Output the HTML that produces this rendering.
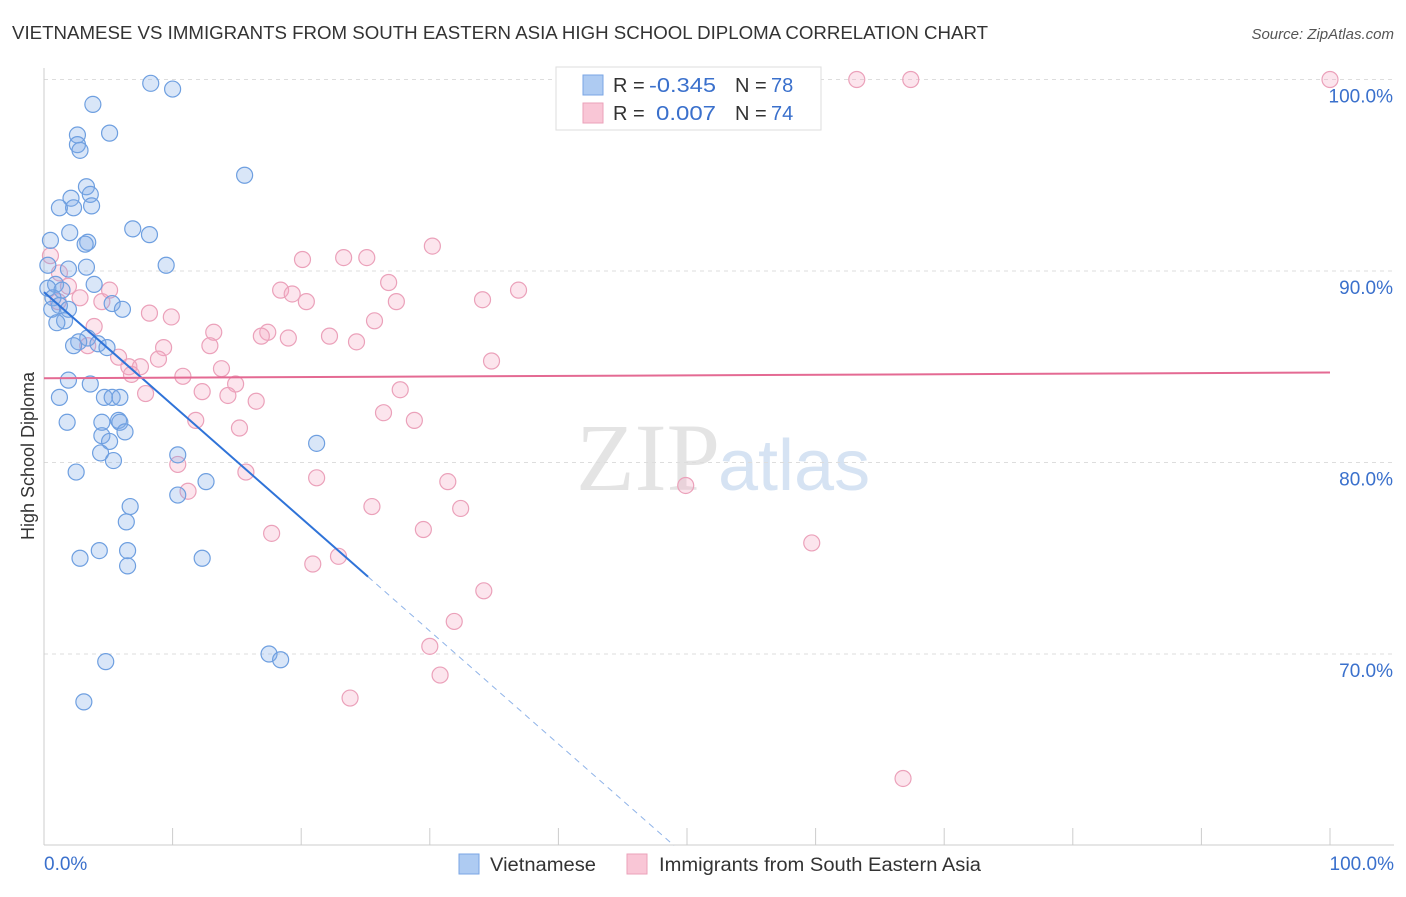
<!DOCTYPE html>
<html><head><meta charset="utf-8"><style>
body{margin:0;background:#fff;font-family:"Liberation Sans",sans-serif;}
</style></head><body>
<svg id="chart" width="1406" height="892" xmlns="http://www.w3.org/2000/svg">
<text x="12" y="39" font-size="18" fill="#333" textLength="976" lengthAdjust="spacingAndGlyphs">VIETNAMESE VS IMMIGRANTS FROM SOUTH EASTERN ASIA HIGH SCHOOL DIPLOMA CORRELATION CHART</text>
<text x="1394" y="39" font-size="15" fill="#555" font-style="italic" text-anchor="end">Source: ZipAtlas.com</text>
<text x="720" y="490" font-size="96" fill="#e4e4e4" font-family="Liberation Serif,serif" text-anchor="end">ZIP</text>
<text x="718" y="490" font-size="72" fill="#d6e3f3" text-anchor="start">atlas</text>
<g id="grid"></g><g id="axes"></g><g id="pts"></g><g id="trend"></g>
<text transform="translate(34,456) rotate(-90)" font-size="18" fill="#333" text-anchor="middle">High School Diploma</text>
<g>
<rect x="556" y="67" width="265" height="63" fill="#fff" stroke="#ddd"/>
<rect x="583" y="75" width="20" height="20" fill="#aecbf2" stroke="#7aa6e4"/>
<rect x="583" y="103" width="20" height="20" fill="#f9c6d6" stroke="#eba1ba"/>
<text x="613" y="92" font-size="20" fill="#333">R = <tspan fill="#3a70cc" x="649" textLength="67" lengthAdjust="spacingAndGlyphs">-0.345</tspan></text>
<text x="735" y="92" font-size="20" fill="#333">N = <tspan fill="#3a70cc" x="771">78</tspan></text>
<text x="613" y="120" font-size="20" fill="#333">R = <tspan fill="#3a70cc" x="656" textLength="60" lengthAdjust="spacingAndGlyphs">0.007</tspan></text>
<text x="735" y="120" font-size="20" fill="#333">N = <tspan fill="#3a70cc" x="771">74</tspan></text>
</g>
<g>
<rect x="459" y="854" width="20" height="20" fill="#aecbf2" stroke="#7aa6e4"/>
<text x="490" y="871" font-size="19" fill="#333" textLength="106" lengthAdjust="spacingAndGlyphs">Vietnamese</text>
<rect x="627" y="854" width="20" height="20" fill="#f9c6d6" stroke="#eba1ba"/>
<text x="659" y="871" font-size="19" fill="#333" textLength="322" lengthAdjust="spacingAndGlyphs">Immigrants from South Eastern Asia</text>
</g>
</svg>
<script>
const blueX=[8.3,10.0,3.8,2.6,5.1,2.6,2.8,15.6,3.3,3.6,2.1,3.7,1.2,2.3,6.9,8.2,2.0,0.5,3.4,3.2,9.5,3.3,1.9,0.3,3.9,0.9,0.3,1.4,0.7,5.3,1.2,1.9,0.6,6.1,1.6,1.0,3.4,2.7,4.2,2.3,4.9,1.9,3.6,1.2,4.7,5.3,5.9,1.8,4.5,5.8,5.9,4.5,6.3,5.1,21.2,4.4,10.4,5.4,2.5,12.6,10.4,6.7,6.4,4.3,6.5,2.8,12.3,6.5,17.5,18.4,4.8,3.1];
const blueY=[99.8,99.5,98.7,97.1,97.2,96.6,96.3,95.0,94.4,94.0,93.8,93.4,93.3,93.3,92.2,91.9,92.0,91.6,91.5,91.4,90.3,90.2,90.1,90.3,89.3,89.3,89.1,89.0,88.6,88.3,88.2,88.0,88.0,88.0,87.4,87.3,86.5,86.3,86.2,86.1,86.0,84.3,84.1,83.4,83.4,83.4,83.4,82.1,82.1,82.2,82.1,81.4,81.6,81.1,81.0,80.5,80.4,80.1,79.5,79.0,78.3,77.7,76.9,75.4,75.4,75.0,75.0,74.6,70.0,69.7,69.6,67.5];
const pinkX=[63.2,67.4,100,30.2,25.1,23.3,20.1,0.5,1.2,26.8,36.9,18.4,19.3,20.4,27.4,34.1,1.9,2.8,4.5,5.1,1.1,8.2,9.9,25.7,3.9,13.2,17.4,22.2,16.9,19.0,24.3,12.9,3.4,9.3,5.8,8.9,6.6,7.5,34.8,13.8,6.8,10.8,14.9,12.3,7.9,27.7,14.3,16.5,26.4,28.8,11.8,15.2,10.4,15.7,21.2,31.4,49.9,11.2,25.5,32.4,29.5,17.7,59.7,22.9,20.9,34.2,31.9,30.0,30.8,23.8,66.8];
const pinkY=[100,100,100,91.3,90.7,90.7,90.6,90.8,89.9,89.4,89.0,89.0,88.8,88.4,88.4,88.5,89.2,88.6,88.4,89.0,88.4,87.8,87.6,87.4,87.1,86.8,86.8,86.6,86.6,86.5,86.3,86.1,86.1,86.0,85.5,85.4,85.0,85.0,85.3,84.9,84.6,84.5,84.1,83.7,83.6,83.8,83.5,83.2,82.6,82.2,82.2,81.8,79.9,79.5,79.2,79.0,78.8,78.5,77.7,77.6,76.5,76.3,75.8,75.1,74.7,73.3,71.7,70.4,68.9,67.7,63.5];
const blueTrend=[88.9,-0.59];
const pinkTrend=[84.4,0.003];
const yTicks=[70,80,90,100];
const xTicks=[0,10,20,30,40,50,60,70,80,90,100];
const NS="http://www.w3.org/2000/svg";
const sx=v=>44+v*12.86, sy=v=>79.5+(100-v)*19.15;
function mk(tag,attrs,parent){const e=document.createElementNS(NS,tag);for(const k in attrs)e.setAttribute(k,attrs[k]);document.getElementById(parent).appendChild(e);return e;}
yTicks.forEach(t=>{
 const l=mk('line',{x1:44,x2:1394,y1:sy(t),y2:sy(t),stroke:'#ddd','stroke-dasharray':'4,4'},'grid');
 
 
 const tx=mk('text',{x:1393,y:sy(t)+23,'font-size':19,fill:'#3a70cc','text-anchor':'end'},'grid');
 tx.textContent=t.toFixed(1)+'%';
 
 
});
mk('line',{x1:44,x2:44,y1:68,y2:845,stroke:'#ccc'},'axes');
mk('line',{x1:44,x2:1394,y1:845,y2:845,stroke:'#ccc'},'axes');
xTicks.forEach(t=>{const l=mk('line',{x1:sx(t),x2:sx(t),y1:828,y2:845,stroke:'#ccc'},'axes');
 
 });
[[0,'0.0%','start',44],[100,'100.0%','end',1394]].forEach(a=>{const tx=mk('text',{x:a[3],y:870,'font-size':19,fill:'#3a70cc','text-anchor':a[2]},'axes');tx.textContent=a[1];
 
 });
function pts(X,Y,fill,stroke,name){X.forEach((x,i)=>{const c=mk('circle',{cx:sx(x),cy:sy(Y[i]),r:8,fill:fill,stroke:stroke,'stroke-width':1.2},'pts');
 
 });}
pts(pinkX,pinkY,'rgba(244,170,196,0.3)','#eba1ba','pink-point');
pts(blueX,blueY,'rgba(130,172,232,0.3)','#6e9fe0','blue-point');
const bx1=25.2, bx2=(60-blueTrend[0])/blueTrend[1];
const b1=mk('line',{x1:sx(0),y1:sy(blueTrend[0]),x2:sx(bx1),y2:sy(blueTrend[0]+blueTrend[1]*bx1),stroke:'#2f73d8','stroke-width':2},'trend');


const b2=mk('line',{x1:sx(bx1),y1:sy(blueTrend[0]+blueTrend[1]*bx1),x2:sx(bx2),y2:sy(60),stroke:'#8fb3e8','stroke-width':1,'stroke-dasharray':'6,5'},'trend');


const p=mk('line',{x1:sx(0),y1:sy(pinkTrend[0]),x2:sx(100),y2:sy(pinkTrend[0]+pinkTrend[1]*100),stroke:'#e46a93','stroke-width':2},'trend');


</script>
</body></html>
